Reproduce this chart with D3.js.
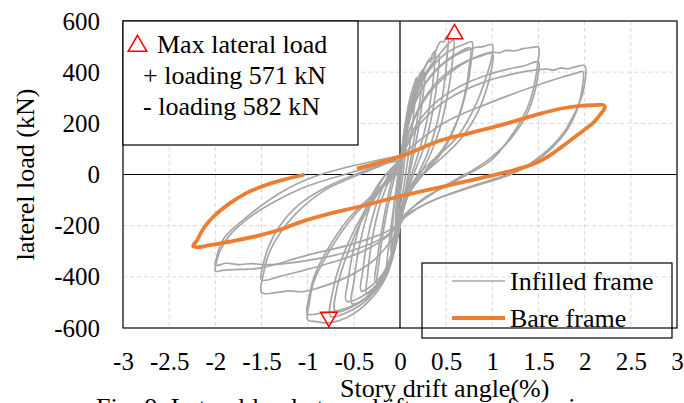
<!DOCTYPE html>
<html>
<head>
<meta charset="utf-8">
<script src="https://cdn.jsdelivr.net/npm/d3@7"></script>
<style>
  body { margin: 0; background: #fff; }
  svg { display: block; }
  svg text { font-family: "Liberation Serif", "Times New Roman", serif; fill: #000; }
</style>
</head>
<body>
<div id="chart"></div>
<script>
const xTicks = [-3, -2.5, -2, -1.5, -1, -0.5, 0, 0.5, 1, 1.5, 2, 2.5, 3];
const yTicks = [-600, -400, -200, 0, 200, 400, 600];

// infilled frame, one array per loading cycle: [drift %, load kN]
const infilledCycles = [
  [[0.0,20],[0.03,120],[0.05,180],[0.045,130],[0.03,60],[0.0,-40],[-0.03,-130],[-0.05,-200],[-0.045,-140],[-0.025,-60],[0.0,20]],
  [[0.0,20],[0.04,150],[0.08,240],[0.1,285],[0.09,220],[0.065,110],[0.035,10],[0.0,-80],[-0.04,-190],[-0.08,-270],[-0.1,-305],[-0.09,-240],[-0.065,-130],[-0.03,-30],[0.0,30]],
  [[0.0,30],[0.05,180],[0.11,300],[0.15,350],[0.18,380],[0.165,300],[0.13,180],[0.085,60],[0.04,-50],[0.0,-130],[-0.05,-250],[-0.1,-340],[-0.15,-392],[-0.135,-320],[-0.095,-200],[-0.05,-80],[-0.01,20],[0.02,50]],
  [[0.02,50],[0.07,200],[0.15,330],[0.22,395],[0.25,410],[0.23,330],[0.18,200],[0.12,70],[0.07,-40],[0.03,-110],[-0.02,-200],[-0.1,-330],[-0.19,-400],[-0.25,-425],[-0.23,-350],[-0.18,-220],[-0.11,-90],[-0.04,10],[0.02,50]],
  [[0.02,50],[0.08,190],[0.17,320],[0.24,385],[0.27,400],[0.25,310],[0.2,180],[0.13,50],[0.07,-50],[0.03,-120],[-0.03,-210],[-0.12,-340],[-0.21,-400],[-0.27,-418],[-0.25,-340],[-0.19,-200],[-0.12,-70],[-0.05,20],[0.02,55]],
  [[0.02,55],[0.07,180],[0.14,300],[0.22,380],[0.28,425],[0.31,445],[0.33,440],[0.35,468],[0.38,482],[0.37,410],[0.33,290],[0.26,160],[0.17,50],[0.09,-40],[0.03,-120],[-0.02,-220],[-0.1,-340],[-0.22,-420],[-0.36,-465],[-0.35,-390],[-0.3,-250],[-0.21,-110],[-0.1,-10],[0.02,60]],
  [[0.02,60],[0.08,180],[0.16,300],[0.25,380],[0.34,430],[0.42,465],[0.41,390],[0.36,260],[0.28,130],[0.18,30],[0.09,-55],[0.03,-130],[-0.03,-240],[-0.12,-350],[-0.26,-420],[-0.42,-455],[-0.4,-370],[-0.34,-230],[-0.24,-100],[-0.12,0],[0.02,60]],
  [[0.02,60],[0.07,190],[0.15,320],[0.24,400],[0.3,440],[0.33,455],[0.35,450],[0.4,495],[0.44,520],[0.47,518],[0.5,535],[0.52,540],[0.51,460],[0.47,330],[0.4,200],[0.3,85],[0.18,-10],[0.08,-85],[0.03,-150],[-0.04,-270],[-0.16,-400],[-0.33,-475],[-0.52,-505],[-0.5,-420],[-0.44,-280],[-0.33,-130],[-0.19,-20],[-0.06,35],[0.02,65]],
  [[0.02,65],[0.09,200],[0.2,330],[0.33,420],[0.45,480],[0.58,525],[0.57,450],[0.52,320],[0.44,190],[0.33,80],[0.2,-10],[0.09,-80],[0.03,-145],[-0.04,-260],[-0.17,-390],[-0.36,-465],[-0.58,-495],[-0.56,-410],[-0.49,-270],[-0.37,-130],[-0.21,-25],[-0.06,35],[0.02,65]],
  [[0.02,65],[0.06,170],[0.14,290],[0.3,400],[0.45,460],[0.6,495],[0.7,510],[0.78,518],[0.77,440],[0.72,330],[0.62,210],[0.48,110],[0.33,40],[0.2,-20],[0.1,-75],[0.03,-130],[-0.03,-230],[-0.12,-350],[-0.28,-450],[-0.48,-510],[-0.7,-535],[-0.68,-440],[-0.58,-320],[-0.43,-190],[-0.25,-80],[-0.08,0],[0.02,60]],
  [[0.02,60],[0.07,165],[0.16,280],[0.32,380],[0.5,445],[0.65,480],[0.76,495],[0.75,420],[0.7,310],[0.6,190],[0.46,90],[0.3,20],[0.16,-40],[0.06,-100],[0.02,-150],[-0.04,-260],[-0.15,-380],[-0.33,-480],[-0.55,-535],[-0.75,-555],[-0.73,-460],[-0.63,-330],[-0.47,-200],[-0.28,-85],[-0.1,0],[0.02,62]],
  [[0.02,62],[0.08,180],[0.2,310],[0.4,410],[0.6,465],[0.8,495],[0.9,500],[1.0,507],[0.99,450],[0.95,400],[0.83,280],[0.62,147],[0.36,57],[0.2,0],[0.08,-70],[0.03,-140],[-0.03,-250],[-0.15,-400],[-0.35,-500],[-0.58,-560],[-0.77,-580],[-0.9,-575],[-1.0,-568],[-0.98,-500],[-0.94,-425],[-0.76,-296],[-0.51,-166],[-0.22,-61],[0.0,20],[0.02,65]],
  [[0.02,65],[0.1,170],[0.25,290],[0.45,380],[0.7,440],[0.85,460],[1.0,472],[0.99,410],[0.95,350],[0.85,250],[0.66,140],[0.42,55],[0.25,0],[0.1,-70],[0.03,-145],[-0.04,-260],[-0.18,-400],[-0.4,-490],[-0.65,-530],[-0.85,-542],[-1.0,-545],[-0.98,-470],[-0.92,-390],[-0.78,-290],[-0.55,-170],[-0.27,-70],[-0.05,10],[0.02,68]],
  [[0.02,68],[0.1,170],[0.3,310],[0.55,400],[0.8,455],[1.0,478],[1.08,476],[1.15,485],[1.25,483],[1.33,492],[1.42,496],[1.5,498],[1.49,430],[1.45,343],[1.38,260],[1.27,186],[1.0,60],[0.73,0],[0.5,-45],[0.25,-95],[0.06,-160],[-0.08,-250],[-0.3,-340],[-0.6,-405],[-0.9,-445],[-1.05,-458],[-1.2,-455],[-1.35,-462],[-1.5,-462],[-1.48,-390],[-1.42,-310],[-1.3,-230],[-1.12,-150],[-0.83,-65],[-0.51,-10],[-0.2,35],[0.02,70]],
  [[0.02,70],[0.12,160],[0.35,270],[0.65,345],[0.95,390],[1.15,410],[1.25,418],[1.35,425],[1.5,440],[1.49,380],[1.45,310],[1.36,225],[1.2,140],[1.0,70],[0.8,20],[0.6,-20],[0.35,-75],[0.07,-150],[-0.1,-230],[-0.4,-300],[-0.75,-345],[-1.1,-380],[-1.3,-398],[-1.5,-412],[-1.48,-350],[-1.42,-280],[-1.3,-200],[-1.1,-120],[-0.8,-50],[-0.45,5],[-0.15,45],[0.02,70]],
  [[0.02,70],[0.2,190],[0.5,290],[0.9,360],[1.25,395],[1.5,410],[1.6,412],[1.66,408],[1.74,416],[1.82,413],[1.9,421],[2.0,425],[1.98,318],[1.92,260],[1.87,225],[1.77,162],[1.6,95],[1.4,40],[1.2,0],[0.9,-35],[0.6,-70],[0.3,-110],[0.06,-165],[-0.15,-240],[-0.5,-295],[-0.9,-330],[-1.3,-350],[-1.5,-352],[-1.6,-348],[-1.75,-352],[-1.88,-347],[-2.0,-355],[-1.99,-330],[-1.96,-290],[-1.9,-245],[-1.66,-166],[-1.3,-72],[-0.94,-10],[-0.57,29],[-0.22,57],[0.02,75]],
  [[0.02,75],[0.47,200],[0.97,280],[1.44,343],[1.75,380],[1.9,395],[1.98,402],[1.97,330],[1.92,255],[1.82,180],[1.65,105],[1.45,48],[1.25,12],[1.0,-20],[0.7,-55],[0.4,-95],[0.1,-150],[-0.1,-215],[-0.5,-270],[-1.0,-315],[-1.5,-365],[-1.65,-370],[-1.8,-372],[-1.92,-375],[-2.0,-378],[-1.99,-345],[-1.95,-300],[-1.85,-240],[-1.6,-160],[-1.3,-95],[-1.0,-45],[-0.6,0],[-0.25,35],[0.0,55]]
];

// bare frame, single loop
const bareFrame = [
  [-0.45,25],[0,70],[0.43,132],[0.79,165],[1.16,200],[1.52,238],[1.75,258],[1.95,268],[2.1,271],[2.2,272],[2.22,262],
  [2.18,240],[2.1,205],[1.95,162],[1.84,132],[1.73,102],[1.62,74],[1.5,50],[1.34,28],[1.16,10],[0.79,-21],[0.43,-50],[0,-85],
  [-0.43,-125],[-0.73,-150],[-1.08,-186],[-1.27,-212],[-1.52,-238],[-1.81,-260],[-2.06,-276],[-2.2,-284],[-2.24,-280],
  [-2.2,-258],[-2.13,-212],[-2.03,-168],[-1.84,-112],[-1.66,-72],[-1.46,-42],[-1.27,-21],[-1.05,-2]
];

const maxMarkers = [
  { x: 0.59, y: 549, dir: "up" },
  { x: -0.77, y: -557, dir: "down" }
];

const noteLines = ["Max lateral load", "+ loading 571 kN", "- loading 582 kN"];
const seriesNames = ["Infilled frame", "Bare frame"];

const FONT = "'Liberation Serif', 'Times New Roman', serif";
const W = 684, H = 403;
const plot = { left: 123, right: 677, top: 21, bottom: 328 };

const svg = d3.select("#chart").append("svg")
  .attr("width", W).attr("height", H)
  .attr("font-family", FONT);

const x = d3.scaleLinear().domain([-3, 3]).range([plot.left, plot.right]);
const y = d3.scaleLinear().domain([-600, 600]).range([plot.bottom, plot.top]);

// grid
svg.append("g")
  .selectAll("line")
  .data(xTicks.filter((d) => d !== 0 && Math.abs(d) !== 3))
  .join("line")
  .attr("x1", (d) => x(d)).attr("x2", (d) => x(d))
  .attr("y1", plot.top).attr("y2", plot.bottom)
  .attr("stroke", "#d9d9d9").attr("stroke-dasharray", "4,3");

svg.append("g")
  .selectAll("line")
  .data(yTicks.filter((d) => d !== 0 && Math.abs(d) !== 600))
  .join("line")
  .attr("x1", plot.left).attr("x2", plot.right)
  .attr("y1", (d) => y(d)).attr("y2", (d) => y(d))
  .attr("stroke", "#d9d9d9").attr("stroke-dasharray", "4,3");

// zero lines
svg.append("line")
  .attr("x1", plot.left).attr("x2", plot.right)
  .attr("y1", y(0)).attr("y2", y(0))
  .attr("stroke", "#000").attr("stroke-width", 1.2);
svg.append("line")
  .attr("x1", x(0)).attr("x2", x(0))
  .attr("y1", plot.top).attr("y2", plot.bottom)
  .attr("stroke", "#000").attr("stroke-width", 1.2);

// curves
const line = d3.line()
  .x((d) => x(d[0]))
  .y((d) => y(d[1]))
  .curve(d3.curveCatmullRom.alpha(0.5));

svg.append("g")
  .selectAll("path")
  .data(infilledCycles)
  .join("path")
  .attr("d", line)
  .attr("fill", "none")
  .attr("stroke", "#a6a6a6")
  .attr("stroke-width", 1.7);

svg.append("path")
  .datum(bareFrame)
  .attr("d", line)
  .attr("fill", "none")
  .attr("stroke", "#ed7d31")
  .attr("stroke-width", 3.8)
  .attr("stroke-linecap", "round");

// max markers
const tri = d3.symbol().type(d3.symbolTriangle).size(120);
svg.append("g")
  .selectAll("path")
  .data(maxMarkers)
  .join("path")
  .attr("d", tri)
  .attr("transform", (d) => `translate(${x(d.x)},${y(d.y)}) rotate(${d.dir === "up" ? 0 : 180})`)
  .attr("fill", "none")
  .attr("stroke", "#ff0000")
  .attr("stroke-width", 1.5);

// plot frame
svg.append("rect")
  .attr("x", plot.left).attr("y", plot.top)
  .attr("width", plot.right - plot.left).attr("height", plot.bottom - plot.top)
  .attr("fill", "none").attr("stroke", "#000").attr("stroke-width", 1.2);

// axes
const xAxis = svg.append("g")
  .attr("transform", `translate(0,${plot.bottom})`)
  .call(d3.axisBottom(x).tickValues(xTicks).tickSize(0).tickPadding(24).tickFormat((d) => String(d)));
const yAxis = svg.append("g")
  .attr("transform", `translate(${plot.left},0)`)
  .call(d3.axisLeft(y).tickValues(yTicks).tickSize(0).tickPadding(23).tickFormat((d) => String(d)));
[xAxis, yAxis].forEach((g) => {
  g.attr("font-family", FONT).attr("font-size", 25);
  g.select(".domain").remove();
  g.selectAll("text").attr("fill", "#000");
});

svg.append("text")
  .attr("x", 340).attr("y", 397)
  .attr("font-size", 26)
  .text("Story drift angle(%)");

svg.append("text")
  .attr("transform", `translate(34,${(plot.top + plot.bottom) / 2}) rotate(-90)`)
  .attr("text-anchor", "middle")
  .attr("font-size", 26)
  .text("laterel load (kN)");

svg.append("text")
  .attr("x", 96).attr("y", 416)
  .attr("textLength", 535)
  .attr("lengthAdjust", "spacing")
  .attr("font-size", 26)
  .text("Fig. 9. Lateral load-story drift curves of specimens");

// note box (top left)
svg.append("rect")
  .attr("x", plot.left).attr("y", plot.top)
  .attr("width", 235).attr("height", 124)
  .attr("fill", "#fff").attr("stroke", "#000").attr("stroke-width", 1.2);

svg.append("path")
  .attr("d", d3.symbol().type(d3.symbolTriangle).size(150))
  .attr("transform", "translate(137.5,46)")
  .attr("fill", "none").attr("stroke", "#ff0000").attr("stroke-width", 1.5);

svg.append("g")
  .selectAll("text")
  .data(noteLines)
  .join("text")
  .attr("x", (d, i) => (i === 0 ? 157 : 143))
  .attr("y", (d, i) => 53 + i * 31)
  .attr("font-size", 26)
  .text((d) => d);

// series legend (bottom right)
svg.append("rect")
  .attr("x", 422).attr("y", 263)
  .attr("width", 250).attr("height", 75)
  .attr("fill", "none").attr("stroke", "#000").attr("stroke-width", 1.2);

const legendRows = svg.append("g")
  .selectAll("g")
  .data(seriesNames)
  .join("g")
  .attr("transform", (d, i) => `translate(0,${i === 0 ? 281 : 318})`);

legendRows.append("line")
  .attr("x1", 452).attr("x2", 505)
  .attr("stroke", (d, i) => (i === 0 ? "#a6a6a6" : "#ed7d31"))
  .attr("stroke-width", (d, i) => (i === 0 ? 1.5 : 3.8));

legendRows.append("text")
  .attr("x", 510).attr("y", 9)
  .attr("font-size", 26)
  .text((d) => d);
</script>
</body>
</html>
